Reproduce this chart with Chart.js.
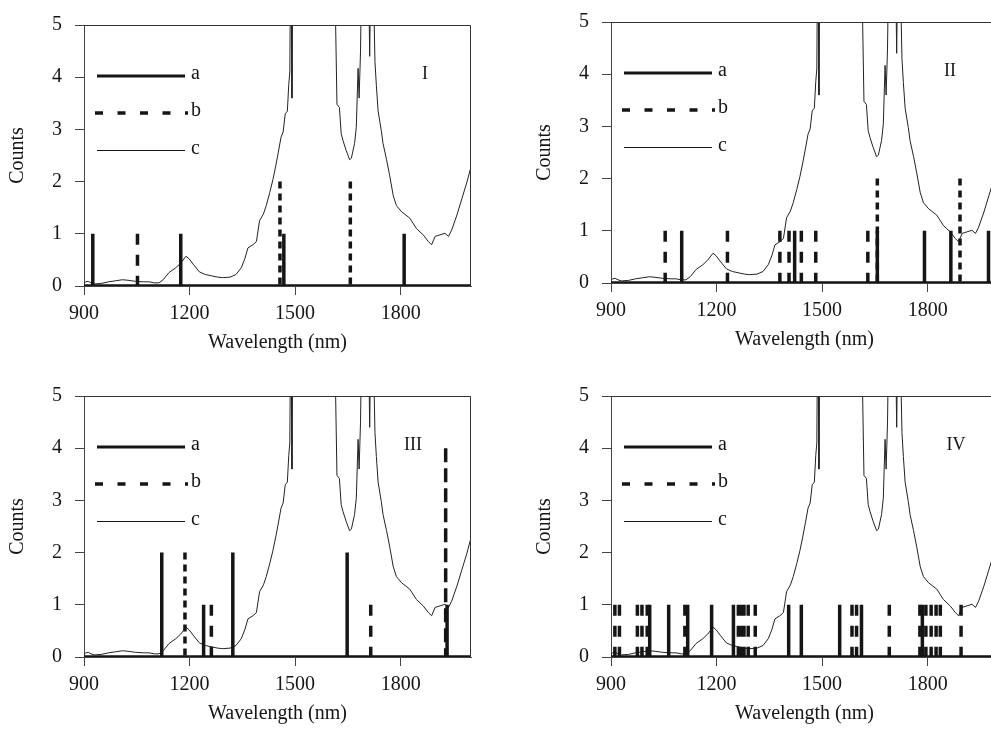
<!DOCTYPE html>
<html>
<head>
<meta charset="utf-8">
<script src="https://cdn.jsdelivr.net/npm/chart.js@4.4.1/dist/chart.umd.min.js"></script>
<style>
  html, body { margin: 0; padding: 0; background: #fff; overflow: hidden; }
  body { width: 991px; height: 729px; position: relative; }
  .panel { position: absolute; width: 480px; height: 360px; }
</style>
</head>
<body>
<div class="panel" style="left:0px;top:0px"><canvas id="p1" width="480" height="360"></canvas></div>
<div class="panel" style="left:527px;top:-3px"><canvas id="p2" width="480" height="360"></canvas></div>
<div class="panel" style="left:0px;top:371px"><canvas id="p3" width="480" height="360"></canvas></div>
<div class="panel" style="left:527px;top:371px"><canvas id="p4" width="480" height="360"></canvas></div>
<script>
// tick labels
const xTicks = [900, 1200, 1500, 1800];
const yTicks = [0, 1, 2, 3, 4, 5];

// spectrum c (same in every panel)
const cWavelength = [900, 905, 912, 920, 930, 950, 970, 990, 1009, 1025, 1046, 1070, 1085, 1100, 1113, 1125,
  1142, 1161, 1175, 1190, 1199, 1210, 1228, 1245, 1266, 1280, 1294, 1315, 1332, 1347, 1357, 1366, 1380, 1390,
  1399, 1410, 1418, 1428, 1437, 1445, 1452, 1460, 1466, 1472, 1478, 1482, 1485, 1487, 1489, 1491, 1493, 1550,
  1612, 1615, 1619, 1626, 1631, 1636, 1645, 1655, 1660, 1669, 1674, 1679, 1682, 1686, 1689, 1709, 1712, 1715,
  1722, 1727, 1731, 1736, 1745, 1750, 1760, 1769, 1779, 1788, 1803, 1826, 1845, 1864, 1879, 1888, 1898, 1912,
  1926, 1936, 1945, 1960, 1974, 1988, 1998, 2003];
const cCounts = [0.05, 0.08, 0.09, 0.06, 0.04, 0.05, 0.08, 0.10, 0.12, 0.11, 0.09, 0.08, 0.08, 0.06, 0.06, 0.12,
  0.26, 0.35, 0.44, 0.57, 0.52, 0.42, 0.27, 0.22, 0.19, 0.17, 0.16, 0.17, 0.22, 0.35, 0.52, 0.73, 0.79, 0.85,
  1.25, 1.38, 1.54, 1.79, 2.04, 2.3, 2.55, 2.85, 2.95, 3.3, 3.35, 3.86, 4.1, 6, 6, 3.6, 6, 8,
  6, 5.1, 3.48, 3.42, 2.92, 2.79, 2.6, 2.42, 2.45, 2.73, 3.04, 4.17, 3.6, 4.5, 6, 6, 4.4, 6,
  6, 4.3, 3.84, 3.35, 2.98, 2.73, 2.42, 2.11, 1.73, 1.54, 1.42, 1.3, 1.1, 0.98, 0.85, 0.79, 0.95, 0.98,
  1.01, 0.95, 1.07, 1.36, 1.67, 1.98, 2.23, 2.36];

// stick spectra a (solid) and b (dashed), one set per panel
const aWavelength1 = [925, 1175, 1468, 1810];
const aCounts1 = [1, 1, 1, 1];
const bWavelength1 = [1052, 1457, 1657];
const bCounts1 = [1, 2, 2];

const aWavelength2 = [1101, 1422, 1657, 1791, 1866, 1973];
const aCounts2 = [1, 1, 1, 1, 1, 1];
const bWavelength2 = [1054, 1231, 1380, 1406, 1441, 1482, 1630, 1657, 1892];
const bCounts2 = [1, 1, 1, 1, 1, 1, 1, 2, 2];

const aWavelength3 = [1121, 1240, 1323, 1648, 1932];
const aCounts3 = [2, 1, 2, 2, 1];
const bWavelength3 = [1187, 1262, 1715, 1928];
const bCounts3 = [2, 1, 1, 4];

const aWavelength4 = [1010, 1064, 1118, 1186, 1248, 1405, 1441, 1550, 1612, 1785];
const aCounts4 = [1, 1, 1, 1, 1, 1, 1, 1, 1, 1];
const bWavelength4 = [911, 924, 975, 988, 1003, 1110, 1262, 1270, 1278, 1290, 1310, 1585, 1598, 1691,
  1778, 1795, 1810, 1824, 1836, 1895];
const bCounts4 = [1, 1, 1, 1, 1, 1, 1, 1, 1, 1, 1, 1, 1, 1, 1, 1, 1, 1, 1, 1];

const panelNames = ['I', 'II', 'III', 'IV'];
const seriesNames = ['a', 'b', 'c'];

const X_MIN = 900;
const X_MAX = 2000;
const INK = '#151515';
const FONT = { family: "'Liberation Serif', 'Times New Roman', serif", size: 20 };

// solid sticks sit on a line along zero, which makes the thick baseline
function solidSticks(wl, counts) {
    const pts = [{ x: X_MIN, y: 0 }];
    wl.forEach((w, i) => {
        pts.push({ x: w, y: 0 }, { x: w, y: counts[i] }, { x: w, y: 0 });
    });
    pts.push({ x: X_MAX, y: 0 });
    return pts;
}

// dashed sticks of one height, each its own piece so the dash restarts
function dashedSticks(wl, counts, h) {
    const pts = [];
    wl.forEach((w, i) => {
        if (counts[i] !== h) return;
        pts.push({ x: w, y: counts[i] }, { x: w, y: 0 }, { x: w, y: null });
    });
    return pts;
}

function dashFor(h) {
    if (h >= 4) return [14, 6];
    if (h >= 2) return [7, 5];
    return [11, 10];
}

const panelDecor = {
    id: 'panelDecor',
    afterDatasetsDraw(chart, args, opts) {
        const { ctx, chartArea } = chart;
        const { left, top, right, bottom } = chartArea;
        ctx.save();

        // top and right frame
        ctx.strokeStyle = '#333';
        ctx.lineWidth = 1;
        ctx.setLineDash([]);
        ctx.beginPath();
        ctx.moveTo(left, top + 0.5);
        ctx.lineTo(right - 0.5, top + 0.5);
        ctx.lineTo(right - 0.5, bottom);
        ctx.stroke();

        // legend
        ctx.strokeStyle = INK;
        ctx.lineCap = 'butt';
        ctx.lineWidth = 3;
        ctx.beginPath();
        ctx.moveTo(left + 13, top + 51);
        ctx.lineTo(left + 101, top + 51);
        ctx.stroke();

        ctx.lineWidth = 3.5;
        ctx.setLineDash([8, 14.5]);
        ctx.beginPath();
        ctx.moveTo(left + 11, top + 88);
        ctx.lineTo(left + 104, top + 88);
        ctx.stroke();

        ctx.setLineDash([]);
        ctx.lineWidth = 1;
        ctx.beginPath();
        ctx.moveTo(left + 13, top + 125.5);
        ctx.lineTo(left + 101, top + 125.5);
        ctx.stroke();

        ctx.fillStyle = INK;
        ctx.font = "20px 'Liberation Serif', serif";
        ctx.textAlign = 'left';
        ctx.textBaseline = 'alphabetic';
        ctx.fillText(seriesNames[0], left + 107, top + 54);
        ctx.fillText(seriesNames[1], left + 107, top + 91);
        ctx.fillText(seriesNames[2], left + 107, top + 129);

        // panel number
        ctx.font = "18px 'Liberation Serif', serif";
        ctx.textAlign = 'center';
        ctx.fillText(opts.name, left + opts.nameX, top + 54);
        ctx.restore();
    }
};

function makeChart(id, name, nameX, aW, aC, bW, bC) {
    const cData = cWavelength.map((w, i) => ({ x: w, y: cCounts[i] }));
    const heights = [...new Set(bC)];

    const bSets = heights.map((h) => ({
        label: seriesNames[1],
        data: dashedSticks(bW, bC, h),
        borderColor: INK,
        borderWidth: 3.5,
        borderCapStyle: 'butt',
        borderDash: dashFor(h),
        pointRadius: 0,
        spanGaps: false,
    }));

    return new Chart(document.getElementById(id), {
        type: 'line',
        data: {
            datasets: [
                {
                    label: seriesNames[0],
                    data: solidSticks(aW, aC),
                    borderColor: INK,
                    borderWidth: 3.5,
                    pointRadius: 0,
                    tension: 0,
                },
                ...bSets,
                {
                    label: seriesNames[2],
                    data: cData,
                    borderColor: '#222',
                    borderWidth: 1,
                    pointRadius: 0,
                    tension: 0,
                    clip: 0,
                },
            ],
        },
        options: {
            responsive: false,
            animation: false,
            events: [],
            layout: { padding: { left: 0, top: 20, right: 9, bottom: 0 } },
            plugins: {
                legend: { display: false },
                tooltip: { enabled: false },
                panelDecor: { name: name, nameX: nameX },
            },
            scales: {
                x: {
                    type: 'linear',
                    min: X_MIN,
                    max: X_MAX,
                    afterBuildTicks: (s) => { s.ticks = xTicks.map((v) => ({ value: v })); },
                    afterFit: (s) => { s.height = 74; },
                    grid: { drawOnChartArea: false, drawTicks: true, tickLength: 9, color: '#444' },
                    border: { display: true, color: '#444', width: 1 },
                    ticks: {
                        font: FONT, color: INK, padding: 7, maxRotation: 0, autoSkip: false,
                        callback: (v) => String(v),
                    },
                    title: {
                        display: true,
                        text: 'Wavelength (nm)',
                        font: FONT,
                        color: INK,
                        padding: { top: 0, bottom: 5 },
                    },
                },
                y: {
                    type: 'linear',
                    min: 0,
                    max: 5,
                    afterBuildTicks: (s) => { s.ticks = yTicks.map((v) => ({ value: v })); },
                    afterFit: (s) => { s.width = 84; },
                    grid: { drawOnChartArea: false, drawTicks: true, tickLength: 9, color: '#444' },
                    border: { display: true, color: '#444', width: 1 },
                    ticks: { font: FONT, color: INK, padding: 13, callback: (v) => String(v) },
                    title: {
                        display: true,
                        text: 'Counts',
                        font: FONT,
                        color: INK,
                        padding: { top: 6, bottom: 0 },
                    },
                },
            },
        },
        plugins: [panelDecor],
    });
}

makeChart('p1', panelNames[0], 341, aWavelength1, aCounts1, bWavelength1, bCounts1);
makeChart('p2', panelNames[1], 339, aWavelength2, aCounts2, bWavelength2, bCounts2);
makeChart('p3', panelNames[2], 329, aWavelength3, aCounts3, bWavelength3, bCounts3);
makeChart('p4', panelNames[3], 345, aWavelength4, aCounts4, bWavelength4, bCounts4);
</script>
</body>
</html>
